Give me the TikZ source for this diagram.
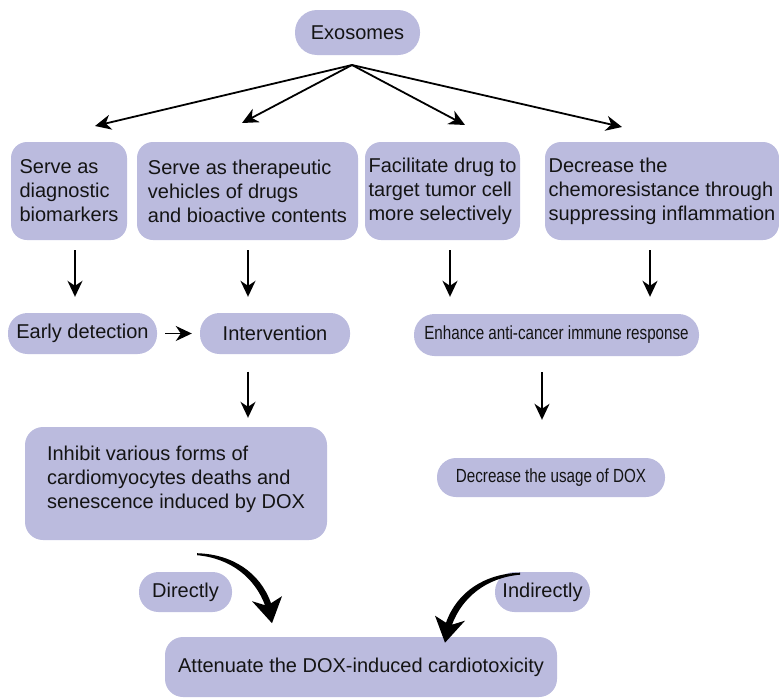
\documentclass[tikz,border=0pt]{standalone}
\usepackage{fontspec}
\setmainfont{Liberation Sans}
\usetikzlibrary{arrows.meta}
\definecolor{lav}{RGB}{187,187,222}
\definecolor{txt}{RGB}{20,20,20}
\tikzset{
  base/.style={fill=lav, text=txt, inner sep=0pt, font=\fontsize{20}{24}\selectfont},
  box/.style={base, rounded corners=16pt, align=left},
  pill/.style={base, rounded corners=19.5pt, minimum height=41},
  arr/.style={line width=1.8pt, -{Stealth[length=16pt,width=15pt,inset=5pt]}},
  bent/.pic={\fill[black] (0,0) .. controls (35,1) and (63,19) .. (74,50) -- (85,43) -- (75,70) -- (55,48) -- (68,52) .. controls (58,25) and (34,5) .. (0,2) -- cycle;}
}
\begin{document}
\begin{tikzpicture}[x=1pt,y=-1pt]
\useasboundingbox (0,0) rectangle (779,699);
% top
\node[pill, minimum width=125, minimum height=45, rounded corners=22pt] (exo) at (357.5,32.5) {Exosomes};
\coordinate (o) at (352,65);
\coordinate (t1) at (95,126);
\coordinate (t2) at (242,123);
\coordinate (t3) at (465,125);
\coordinate (t4) at (622,127);
% row of boxes
\node[box, minimum width=116, minimum height=98] (b1) at (69,191) {Serve as\\diagnostic\\biomarkers};
\node[box, minimum width=221, minimum height=98] (b2) at (247.5,191) {Serve as therapeutic\\vehicles of drugs\\and bioactive contents};
\node[box, minimum width=155, minimum height=98] (b3) at (442.5,191) {Facilitate drug to\\target tumor cell\\more selectively};
\node[box, minimum width=234, minimum height=98] (b4) at (662,191) {Decrease the\\chemoresistance through\\suppressing inflammation};
\foreach \t in {t1,t2,t3,t4} \draw[arr] (o) -- (\t);
% second row
\node[pill, minimum width=149] (ed) at (82.5,333.5) {Early detection};
\node[pill, minimum width=150] (int) at (275,333.5) {Intervention};
\node[pill, minimum width=285, minimum height=42, rounded corners=20.5pt] (en) at (556.5,335) {\fontsize{19}{23}\selectfont\scalebox{0.8}[1]{Enhance anti-cancer immune response}};
\draw[arr] ([xshift=6pt,yshift=-10pt]b1.south) -- ([xshift=-7.5pt,yshift=16pt]ed.north);
\draw[arr] ([xshift=0.5pt,yshift=-10pt]b2.south) -- ([xshift=-27pt,yshift=16pt]int.north);
\draw[arr] ([xshift=7.5pt,yshift=-10pt]b3.south) -- ([xshift=-106.5pt,yshift=17pt]en.north);
\draw[arr] ([xshift=-12pt,yshift=-10pt]b4.south) -- ([xshift=93.5pt,yshift=17pt]en.north);
\draw[arr] ([xshift=8pt]ed.east) -- ([xshift=-8pt]int.west);
% third row
\node[box, rounded corners=18pt, minimum width=302, minimum height=113, text depth=13pt] (inh) at (176,483.5) {Inhibit various forms of\\cardiomyocytes deaths and\\senescence induced by DOX};
\node[pill, minimum width=228, minimum height=39, rounded corners=19pt] (dec) at (551,477.5) {\fontsize{19}{23}\selectfont\scalebox{0.8}[1]{Decrease the usage of DOX}};
\draw[arr] ([xshift=-27pt,yshift=-17.5pt]int.south) -- ([xshift=72pt,yshift=9pt]inh.north);
\draw[arr] ([xshift=-14.5pt,yshift=-16pt]en.south) -- ([xshift=-9pt,yshift=38pt]dec.north);
% bottom
\node[pill, minimum width=93, minimum height=40] (dir) at (185.5,592) {Directly};
\node[pill, minimum width=95, minimum height=40] (ind) at (542.5,592) {Indirectly};
\node[box, rounded corners=18pt, minimum width=392, minimum height=60] (att) at (361,667) {Attenuate the DOX-induced cardiotoxicity};
\pic at ([xshift=21pt,yshift=-13pt]inh.south) {bent};
\pic[xscale=-1] at ([xshift=-31pt,yshift=-75.5pt]dec.south) {bent};
\end{tikzpicture}
\end{document}
